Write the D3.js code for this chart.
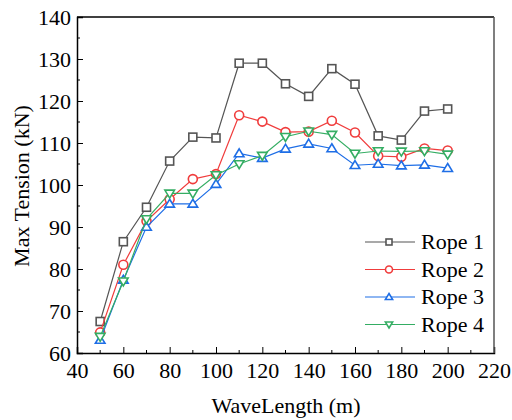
<!DOCTYPE html>
<html>
<head>
<meta charset="utf-8">
<script src="https://cdn.jsdelivr.net/npm/d3@7"></script>
<style>
  body { margin: 0; background: #fff; }
</style>
</head>
<body>
<svg id="chart" width="512" height="420"></svg>
<script>
// wave lengths (m)
var waveLength = [50, 60, 70, 80, 90, 100, 110, 120, 130, 140, 150, 160, 170, 180, 190, 200]
// max tension (kN)
var rope1 = [67.5, 86.5, 94.7, 105.7, 111.4, 111.2, 129.0, 129.0, 124.1, 121.1, 127.7, 124.0, 111.7, 110.7, 117.6, 118.1]
var rope2 = [64.9, 81.0, 91.4, 96.6, 101.4, 102.6, 116.6, 115.1, 112.6, 112.7, 115.3, 112.5, 106.9, 106.7, 108.7, 108.2]
var rope3 = [63.1, 77.4, 90.0, 95.5, 95.5, 100.2, 107.5, 106.4, 108.6, 109.8, 108.7, 104.7, 105.0, 104.6, 104.8, 104.0]
var rope4 = [63.9, 77.1, 91.9, 98.0, 98.0, 102.4, 105.0, 107.0, 111.5, 112.8, 112.0, 107.5, 108.1, 108.0, 108.1, 107.3]
var seriesNames = ["Rope 1", "Rope 2", "Rope 3", "Rope 4"]
var xTicks = [40, 60, 80, 100, 120, 140, 160, 180, 200, 220]
var yTicks = [60, 70, 80, 90, 100, 110, 120, 130, 140]

var series = [
  {name: seriesNames[0], values: rope1, color: "#555555", mark: "square"},
  {name: seriesNames[1], values: rope2, color: "#f03c3c", mark: "circle"},
  {name: seriesNames[2], values: rope3, color: "#1e6ee6", mark: "up"},
  {name: seriesNames[3], values: rope4, color: "#34ad63", mark: "down"}
]

var serif = "'Liberation Serif'"
var svg = d3.select("#chart")
var plotLeft = 77, plotRight = 494, plotTop = 17, plotBottom = 353

var x = d3.scaleLinear().domain([40, 220]).range([plotLeft, plotRight])
var y = d3.scaleLinear().domain([60, 140]).range([plotBottom, plotTop])

// minor ticks
var xMinor = d3.range(50, 220, 20)
var yMinor = d3.range(65, 140, 10)

var g = svg.append("g")

// axes with inward ticks
var xAxis = g.append("g").attr("transform", "translate(0," + plotBottom + ")")
  .call(d3.axisBottom(x).tickValues(xTicks).tickSize(-6).tickPadding(9).tickFormat(d3.format("d")))
var yAxis = g.append("g").attr("transform", "translate(" + plotLeft + ",0)")
  .call(d3.axisLeft(y).tickValues(yTicks).tickSize(-6).tickPadding(6).tickFormat(d3.format("d")))

xAxis.selectAll(".minor").data(xMinor).enter().append("line")
  .attr("x1", function(d){ return x(d) }).attr("x2", function(d){ return x(d) })
  .attr("y1", 0).attr("y2", -3).attr("stroke", "#000")
yAxis.selectAll(".minor").data(yMinor).enter().append("line")
  .attr("y1", function(d){ return y(d) }).attr("y2", function(d){ return y(d) })
  .attr("x1", 0).attr("x2", 3).attr("stroke", "#000")

g.selectAll(".domain").attr("stroke", "#000").attr("stroke-width", 1.5)
g.selectAll(".tick line").attr("stroke", "#000")
g.selectAll(".tick text").attr("fill", "#000")
  .style("font-family", serif).style("font-size", "22px")

// top and right frame
svg.append("line").attr("x1", plotLeft).attr("x2", plotRight).attr("y1", plotTop).attr("y2", plotTop)
  .attr("stroke", "#000").attr("stroke-width", 1.5)
svg.append("line").attr("x1", plotRight).attr("x2", plotRight).attr("y1", plotTop).attr("y2", plotBottom)
  .attr("stroke", "#555").attr("stroke-width", 1.5)

function drawMark(sel, mark, size, color){
  if(mark === "square"){
    sel.append("rect").attr("x", -size/2).attr("y", -size/2).attr("width", size).attr("height", size)
  }else if(mark === "circle"){
    sel.append("circle").attr("r", size/2 + 0.5)
  }else if(mark === "up"){
    var h = size * 0.9
    sel.append("path").attr("d", "M0," + (-h*0.65) + "L" + (size*0.6) + "," + (h*0.45) + "L" + (-size*0.6) + "," + (h*0.45) + "Z")
  }else{
    var h2 = size * 0.9
    sel.append("path").attr("d", "M0," + (h2*0.65) + "L" + (size*0.6) + "," + (-h2*0.45) + "L" + (-size*0.6) + "," + (-h2*0.45) + "Z")
  }
  sel.selectAll("*").attr("fill", "#fff").attr("stroke", color).attr("stroke-width", 1.6)
}

var line = d3.line().x(function(d){ return x(d[0]) }).y(function(d){ return y(d[1]) })

series.forEach(function(s){
  var pts = waveLength.map(function(w, i){ return [w, s.values[i]] })
  svg.append("path").datum(pts).attr("d", line).attr("fill", "none")
    .attr("stroke", s.color).attr("stroke-width", 1.2)
  svg.append("g").selectAll("g").data(pts).enter().append("g")
    .attr("transform", function(d){ return "translate(" + x(d[0]) + "," + y(d[1]) + ")" })
    .each(function(){ drawMark(d3.select(this), s.mark, 8, s.color) })
})

// legend
var legend = svg.append("g")
series.forEach(function(s, i){
  var ly = 242 + i * 27.5
  var row = legend.append("g").attr("transform", "translate(0," + ly + ")")
  row.append("line").attr("x1", 365).attr("x2", 415).attr("y1", 0).attr("y2", 0)
    .attr("stroke", s.color).attr("stroke-width", 1.2)
  var m = row.append("g").attr("transform", "translate(389,0)")
  drawMark(m, s.mark, 6, s.color)
  row.append("text").attr("x", 421).attr("y", 7)
    .style("font-family", serif).style("font-size", "22px").text(s.name)
})

// axis titles
svg.append("text").attr("x", 286).attr("y", 413).attr("text-anchor", "middle")
  .style("font-family", serif).style("font-size", "22px").text("WaveLength (m)")
svg.append("text").attr("transform", "translate(29,186) rotate(-90)").attr("text-anchor", "middle")
  .style("font-family", serif).style("font-size", "22px").text("Max Tension (kN)")
</script>
</body>
</html>
